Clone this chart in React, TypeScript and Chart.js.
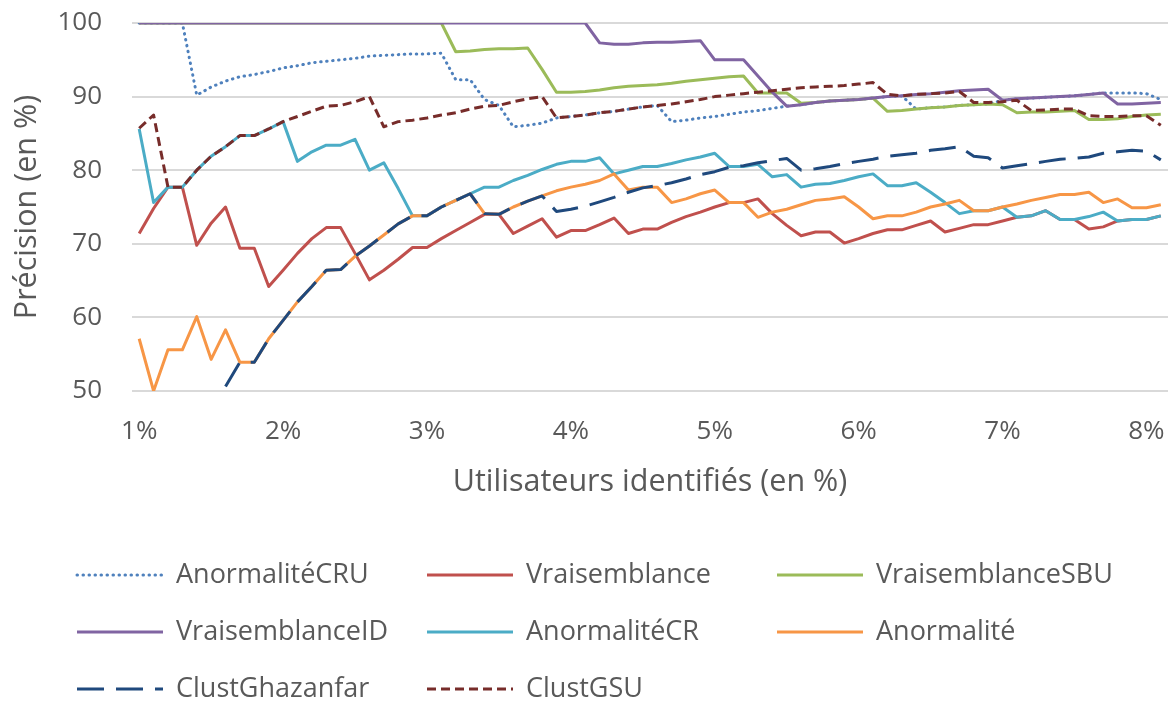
import { useEffect, useRef } from "react";
import { Chart, registerables } from "chart.js";

Chart.register(...registerables);

const categories = [
  "1%", "1.1%", "1.2%", "1.3%", "1.4%", "1.5%", "1.6%", "1.7%", "1.8%", "1.9%",
  "2%", "2.1%", "2.2%", "2.3%", "2.4%", "2.5%", "2.6%", "2.7%", "2.8%", "2.9%",
  "3%", "3.1%", "3.2%", "3.3%", "3.4%", "3.5%", "3.6%", "3.7%", "3.8%", "3.9%",
  "4%", "4.1%", "4.2%", "4.3%", "4.4%", "4.5%", "4.6%", "4.7%", "4.8%", "4.9%",
  "5%", "5.1%", "5.2%", "5.3%", "5.4%", "5.5%", "5.6%", "5.7%", "5.8%", "5.9%",
  "6%", "6.1%", "6.2%", "6.3%", "6.4%", "6.5%", "6.6%", "6.7%", "6.8%", "6.9%",
  "7%", "7.1%", "7.2%", "7.3%", "7.4%", "7.5%", "7.6%", "7.7%", "7.8%", "7.9%",
  "8%", "8.1%",
];

const tickLabels = ["1%", "2%", "3%", "4%", "5%", "6%", "7%", "8%"];

const anormaliteCRU = [
  100, 100, 100, 100, 90.2, 91.3, 92.1, 92.7, 93.0, 93.4,
  93.9, 94.2, 94.6, 94.8, 95.0, 95.2, 95.5, 95.6, 95.7, 95.8,
  95.8, 95.9, 92.3, 92.3, 89.6, 88.8, 85.9, 86.1, 86.4, 87.1,
  87.3, 87.5, 87.8, 88.0, 88.3, 88.6, 88.8, 86.6, 86.8, 87.1,
  87.3, 87.6, 87.9, 88.1, 88.4, 88.7, 88.9, 89.2, 89.4, 89.5,
  89.6, 89.8, 90.0, 90.1, 88.3, 88.5, 88.6, 88.8, 88.9, 89.0,
  89.5, 89.7, 89.8, 89.9, 90.0, 90.1, 90.3, 90.5, 90.5, 90.5,
  90.4, 89.6,
];

const vraisemblance = [
  71.4, 74.8, 77.7, 77.7, 69.8, 72.8, 75.0, 69.4, 69.4, 64.2,
  66.4, 68.7, 70.7, 72.2, 72.2, 68.7, 65.1, 66.4, 67.9, 69.5,
  69.5, 70.7, 71.8, 72.9, 74.0, 74.0, 71.4, 72.4, 73.4, 70.9,
  71.8, 71.8, 72.6, 73.5, 71.4, 72.0, 72.0, 72.9, 73.7, 74.3,
  75.0, 75.6, 75.6, 76.1, 74.1, 72.5, 71.1, 71.6, 71.6, 70.1,
  70.7, 71.4, 71.9, 71.9, 72.5, 73.1, 71.6, 72.1, 72.6, 72.6,
  73.1, 73.6, 73.8, 74.5, 73.3, 73.3, 72.0, 72.3, 73.1, 73.3,
  73.3, 73.8,
];

const vraisemblanceSBU = [
  100, 100, 100, 100, 100, 100, 100, 100, 100, 100,
  100, 100, 100, 100, 100, 100, 100, 100, 100, 100,
  100, 100, 96.1, 96.2, 96.4, 96.5, 96.5, 96.6, 93.7, 90.6,
  90.6, 90.7, 90.9, 91.2, 91.4, 91.5, 91.6, 91.8, 92.1, 92.3,
  92.5, 92.7, 92.8, 90.5, 90.5, 90.5, 89.1, 89.2, 89.4, 89.5,
  89.6, 89.8, 88.0, 88.1, 88.3, 88.5, 88.6, 88.8, 88.9, 89.0,
  88.9, 87.8, 87.9, 87.9, 88.0, 88.1, 86.9, 86.9, 87.0, 87.3,
  87.5, 87.6,
];

const vraisemblanceID = [
  100, 100, 100, 100, 100, 100, 100, 100, 100, 100,
  100, 100, 100, 100, 100, 100, 100, 100, 100, 100,
  100, 100, 100, 100, 100, 100, 100, 100, 100, 100,
  100, 100, 97.3, 97.1, 97.1, 97.3, 97.4, 97.4, 97.5, 97.6,
  95.0, 95.0, 95.0, 92.8, 90.6, 88.7, 88.9, 89.2, 89.4, 89.5,
  89.6, 89.8, 90.0, 90.1, 90.3, 90.4, 90.6, 90.8, 90.9, 91.0,
  89.5, 89.7, 89.8, 89.9, 90.0, 90.1, 90.3, 90.5, 89.0, 89.0,
  89.1, 89.2,
];

const anormaliteCR = [
  85.6, 75.6, 77.7, 77.7, 80.0, 81.9, 83.2, 84.7, 84.7, 85.6,
  86.6, 81.2, 82.5, 83.4, 83.4, 84.2, 80.0, 81.0, 77.5, 73.8,
  73.8, 75.0, 75.9, 76.8, 77.7, 77.7, 78.6, 79.3, 80.1, 80.8,
  81.2, 81.2, 81.7, 79.5, 80.0, 80.5, 80.5, 80.9, 81.4, 81.8,
  82.3, 80.5, 80.5, 80.8, 79.1, 79.4, 77.7, 78.1, 78.2, 78.6,
  79.1, 79.5, 77.9, 77.9, 78.3, 77.0, 75.6, 74.1, 74.5, 74.5,
  75.0, 73.6, 73.8, 74.5, 73.3, 73.3, 73.7, 74.3, 73.1, 73.3,
  73.3, 73.8,
];

const anormalite = [
  57.1, 50.0, 55.6, 55.6, 60.1, 54.3, 58.3, 53.9, 53.9, 57.1,
  59.6, 62.1, 64.2, 66.4, 66.5, 68.3, 69.7, 71.2, 72.7, 73.8,
  73.8, 75.0, 75.9, 76.8, 74.1, 74.0, 75.0, 75.8, 76.5, 77.2,
  77.7, 78.1, 78.6, 79.5, 77.3, 77.7, 77.7, 75.6, 76.1, 76.8,
  77.3, 75.6, 75.6, 73.6, 74.3, 74.7, 75.3, 75.9, 76.1, 76.4,
  75.0, 73.4, 73.8, 73.8, 74.3, 75.0, 75.4, 75.9, 74.5, 74.5,
  75.0, 75.4, 75.9, 76.3, 76.7, 76.7, 77.0, 75.6, 76.1, 74.9,
  74.9, 75.3,
];

const clustGhazanfar = [
  null, null, null, null, null, null, 50.6, 53.9, 53.9, 57.1,
  59.6, 62.1, 64.2, 66.4, 66.5, 68.3, 69.7, 71.2, 72.7, 73.8,
  73.8, 75.0, 75.9, 76.8, 74.1, 74.0, 75.0, 75.8, 76.5, 74.4,
  74.7, 75.1, 75.7, 76.3, 77.0, 77.6, 77.9, 78.3, 78.8, 79.4,
  79.8, 80.4, 80.6, 81.0, 81.3, 81.6, 80.0, 80.2, 80.5, 80.9,
  81.2, 81.5, 81.9, 82.1, 82.3, 82.7, 82.9, 83.2, 81.9, 81.7,
  80.3, 80.6, 80.9, 81.2, 81.5, 81.6, 81.8, 82.3, 82.5, 82.7,
  82.6, 81.4,
];

const clustGSU = [
  85.7, 87.5, 77.7, 77.7, 80.0, 81.9, 83.2, 84.7, 84.7, 85.6,
  86.6, 87.3, 88.0, 88.7, 88.8, 89.3, 90.0, 85.9, 86.6, 86.8,
  87.1, 87.5, 87.8, 88.3, 88.7, 88.8, 89.3, 89.7, 90.0, 87.1,
  87.3, 87.5, 87.8, 88.0, 88.3, 88.6, 88.8, 89.0, 89.3, 89.6,
  90.0, 90.2, 90.4, 90.6, 90.8, 91.0, 91.2, 91.3, 91.4, 91.5,
  91.7, 91.9, 90.3, 90.1, 90.3, 90.4, 90.5, 90.7, 89.2, 89.2,
  89.3, 89.5, 88.1, 88.2, 88.3, 88.3, 87.4, 87.3, 87.3, 87.4,
  87.4, 86.1,
];

const seriesNames = [
  "AnormalitéCRU",
  "Vraisemblance",
  "VraisemblanceSBU",
  "VraisemblanceID",
  "AnormalitéCR",
  "Anormalité",
  "ClustGhazanfar",
  "ClustGSU",
];

const seriesValues = [
  anormaliteCRU,
  vraisemblance,
  vraisemblanceSBU,
  vraisemblanceID,
  anormaliteCR,
  anormalite,
  clustGhazanfar,
  clustGSU,
];

const seriesColors = [
  "#4F81BD",
  "#C0504D",
  "#9BBB59",
  "#8064A2",
  "#4BACC6",
  "#F79646",
  "#1F497D",
  "#772C2A",
];

const seriesDashes: number[][] = [
  [0.5, 5.5],
  [],
  [],
  [],
  [],
  [],
  [27, 12],
  [9, 5],
];

const seriesCaps = ["round", "butt", "butt", "butt", "butt", "butt", "butt", "butt"];

const FONT = "'Open Sans', sans-serif";
const TEXT = "#595959";

export default function App() {
  const ref = useRef<HTMLCanvasElement | null>(null);

  useEffect(() => {
    const canvas = ref.current;
    if (!canvas) return;

    const n = seriesValues.length;
    const datasets = seriesValues.map((data, i) => ({
      label: seriesNames[i],
      data,
      borderColor: seriesColors[i],
      backgroundColor: seriesColors[i],
      borderWidth: 3,
      borderDash: seriesDashes[i],
      borderCapStyle: seriesCaps[i] as any,
      borderJoinStyle: "round" as any,
      pointRadius: 0,
      pointHoverRadius: 0,
      fill: false,
      tension: 0,
      spanGaps: false,
      order: n - i,
    }));

    const legendCols = [77, 427, 777];
    const legendRows = [575, 632, 689];

    const gridLegend = {
      id: "gridLegend",
      afterDraw(chart: any) {
        const ctx = chart.ctx as CanvasRenderingContext2D;
        ctx.save();
        seriesNames.forEach((name, i) => {
          const x = legendCols[i % 3];
          const y = legendRows[Math.floor(i / 3)];
          ctx.beginPath();
          ctx.strokeStyle = seriesColors[i];
          ctx.lineWidth = 3;
          ctx.lineCap = seriesCaps[i] as CanvasLineCap;
          ctx.setLineDash(seriesDashes[i]);
          ctx.moveTo(x, y);
          ctx.lineTo(x + 86, y);
          ctx.stroke();
          ctx.setLineDash([]);
          ctx.fillStyle = TEXT;
          ctx.font = `27px ${FONT}`;
          ctx.textBaseline = "middle";
          ctx.textAlign = "left";
          ctx.fillText(name, x + 99, y);
        });
        ctx.restore();
      },
    };

    const chart = new Chart(canvas, {
      type: "line",
      data: { labels: categories, datasets: datasets as any },
      options: {
        animation: false,
        responsive: false,
        devicePixelRatio: 1,
        layout: { padding: { top: 23, right: 6, bottom: 208, left: 0 } },
        plugins: {
          legend: { display: false },
          tooltip: { enabled: false },
        },
        scales: {
          x: {
            type: "category",
            offset: true,
            grid: {
              display: true,
              drawOnChartArea: false,
              drawTicks: true,
              tickLength: 25,
              color: "rgba(0,0,0,0)",
              tickColor: "rgba(0,0,0,0)",
            },
            border: { display: false },
            ticks: {
              autoSkip: false,
              maxRotation: 0,
              minRotation: 0,
              padding: 0,
              color: TEXT,
              font: { family: FONT, size: 26 },
              callback: (_v: any, idx: number) => {
                const l = categories[idx];
                return tickLabels.includes(l) ? l : null;
              },
            },
            title: {
              display: true,
              text: "Utilisateurs identifiés (en %)",
              color: TEXT,
              font: { family: FONT, size: 30.5 },
              padding: { top: 0, bottom: 0 },
            },
            afterFit: (s: any) => {
              s.height = 110;
            },
          },
          y: {
            min: 50,
            max: 100,
            ticks: {
              stepSize: 10,
              padding: 0,
              color: TEXT,
              font: { family: FONT, size: 26 },
            },
            grid: {
              color: "#D9D9D9",
              lineWidth: 2,
              drawTicks: true,
              tickLength: 30,
              tickColor: "rgba(0,0,0,0)",
            },
            border: { display: false },
            title: {
              display: true,
              text: "Précision (en %)",
              color: TEXT,
              font: { family: FONT, size: 30.5 },
              padding: { top: 9, bottom: 0 },
            },
            afterFit: (s: any) => {
              s.width = 132;
            },
          },
        },
      },
      plugins: [gridLegend],
    });

    return () => chart.destroy();
  }, []);

  return (
    <div style={{ position: "absolute", left: 0, top: 0, width: 1174, height: 709, background: "#fff" }}>
      <canvas ref={ref} width={1174} height={709} style={{ width: 1174, height: 709, display: "block" }} />
    </div>
  );
}
